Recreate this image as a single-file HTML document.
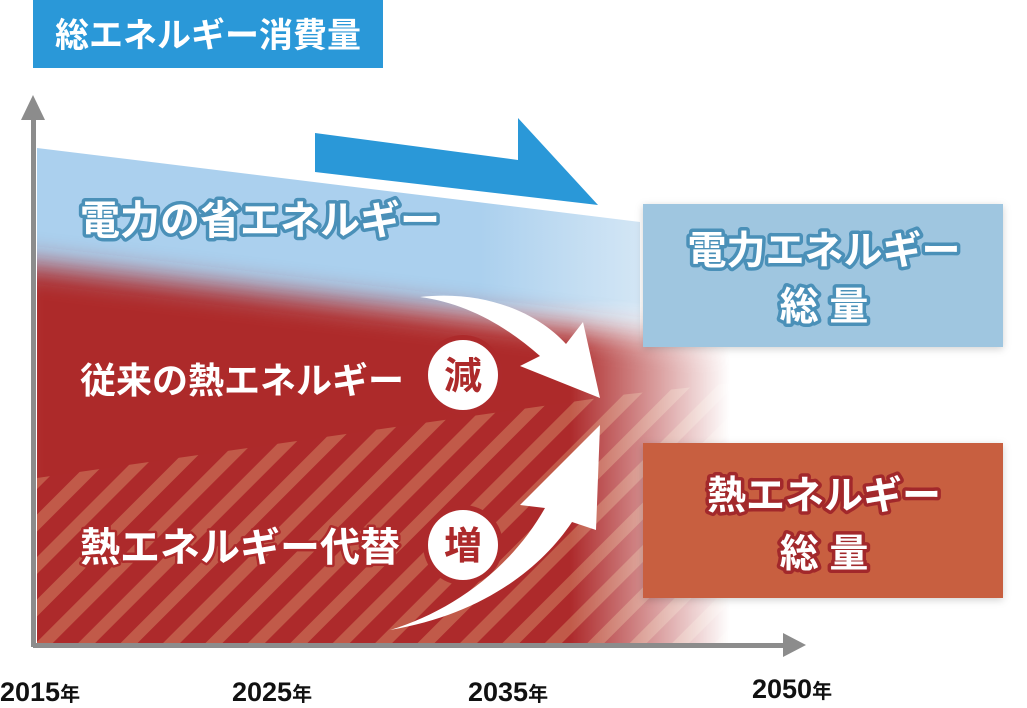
<!DOCTYPE html>
<html><head><meta charset="utf-8"><style>
html,body{margin:0;padding:0;background:#fff}
svg text{font-family:"Liberation Sans","Noto Sans CJK JP",sans-serif;font-weight:bold}
</style></head><body>
<svg width="1027" height="703" viewBox="0 0 1027 703" xmlns="http://www.w3.org/2000/svg">
<defs>
<filter id="bl" x="-20%" y="-20%" width="140%" height="140%"><feGaussianBlur stdDeviation="14"/></filter>
<filter id="sh" x="-10%" y="-10%" width="120%" height="130%"><feDropShadow dx="0" dy="2" stdDeviation="4" flood-color="#000" flood-opacity="0.18"/></filter>
<linearGradient id="hf" gradientUnits="userSpaceOnUse" x1="570" y1="0" x2="730" y2="0">
<stop offset="0" stop-color="#fff" stop-opacity="1"/><stop offset="1" stop-color="#fff" stop-opacity="0"/>
</linearGradient>
<mask id="m"><rect x="0" y="0" width="1027" height="703" fill="url(#hf)"/></mask>
<linearGradient id="bf" gradientUnits="userSpaceOnUse" x1="480" y1="0" x2="640" y2="0">
<stop offset="0" stop-color="#abd0ee"/><stop offset="1" stop-color="#d3e6f5"/>
</linearGradient>
<linearGradient id="bv" gradientUnits="userSpaceOnUse" x1="0" y1="300" x2="0" y2="350">
<stop offset="0" stop-color="#fff" stop-opacity="1"/><stop offset="1" stop-color="#fff" stop-opacity="0"/>
</linearGradient>
<mask id="mb"><rect x="0" y="0" width="1027" height="703" fill="url(#bv)"/></mask>
<clipPath id="plot"><rect x="37" y="100" width="760" height="545"/></clipPath>
<pattern id="hatch" patternUnits="userSpaceOnUse" width="30" height="30" patternTransform="rotate(45)">
<rect width="30" height="30" fill="#ad2a2b"/><rect width="12" height="30" fill="#c15a49"/>
</pattern>
</defs>
<rect x="33" y="0" width="350" height="68" fill="#2a98d8"/>
<text x="208" y="47" font-size="34" fill="#fff" text-anchor="middle">総エネルギー消費量</text>
<g clip-path="url(#plot)">
<polygon points="37,148 640,222 640,360 37,320" fill="url(#bf)" mask="url(#mb)"/>
<g mask="url(#m)">
<polygon points="10,262 760,350 760,700 10,700" fill="#ad2a2b" filter="url(#bl)"/>
<polygon points="37,478 620,395 760,380 760,645 37,645" fill="url(#hatch)"/>
</g>
</g>
<rect x="31" y="112" width="5" height="535" fill="#8c8c8c"/>
<polygon points="33,95 21,120 45,120" fill="#8c8c8c"/>
<rect x="33" y="643" width="760" height="5" fill="#8c8c8c"/>
<polygon points="806,645 783,633 783,657" fill="#8c8c8c"/>
<polygon points="315,133 518,160 518,118 598,205 315,172" fill="#2a98d8"/>
<rect x="643" y="204" width="360" height="143" fill="#9fc6e0" filter="url(#sh)"/>
<rect x="643" y="443" width="360" height="155" fill="#c85e3f" filter="url(#sh)"/>
<g font-size="39" text-anchor="middle" stroke-linejoin="round" paint-order="stroke">
<text x="824" y="264" fill="#fff" stroke="#4a90b8" stroke-width="7">電力エネルギー</text>
<text x="824" y="320" fill="#fff" stroke="#4a90b8" stroke-width="7">総 量</text>
<text x="824" y="509" fill="#fff" stroke="#a2282b" stroke-width="7">熱エネルギー</text>
<text x="824" y="567" fill="#fff" stroke="#a2282b" stroke-width="7">総 量</text>
</g>
<path d="M420,297 C480,290 535,310 566,344 L583,322 L600,398 L520,366 L540,356 C505,325 465,303 420,297 Z" fill="#fff"/>
<path d="M390,630 C480,615 540,570 572,522 L596,530 L600,425 L520,505 L545,508 C510,570 450,612 390,630 Z" fill="#fff"/>
<g font-size="40" stroke-linejoin="round" paint-order="stroke">
<text x="80" y="234" fill="#fff" stroke="#4a90b8" stroke-width="7">電力の省エネルギー</text>
<text x="80" y="393" fill="#fff" font-size="36">従来の熱エネルギー</text>
<text x="80" y="561" fill="#fff" font-size="40" stroke="#ad2a2b" stroke-width="5">熱エネルギー代替</text>
</g>
<circle cx="463" cy="375" r="40" fill="#ad2a2b"/>
<circle cx="463" cy="375" r="35" fill="#fff"/>
<text x="463" y="389" font-size="38" fill="#ad2a2b" text-anchor="middle">減</text>
<circle cx="463" cy="545" r="40" fill="#ad2a2b"/>
<circle cx="463" cy="545" r="35" fill="#fff"/>
<text x="463" y="559" font-size="38" fill="#ad2a2b" text-anchor="middle">増</text>
<g font-size="27" fill="#111">
<text x="0" y="701">2015<tspan font-size="20">年</tspan></text>
<text x="232" y="701">2025<tspan font-size="20">年</tspan></text>
<text x="468" y="701">2035<tspan font-size="20">年</tspan></text>
<text x="752" y="698">2050<tspan font-size="20">年</tspan></text>
</g>
</svg>
</body></html>
